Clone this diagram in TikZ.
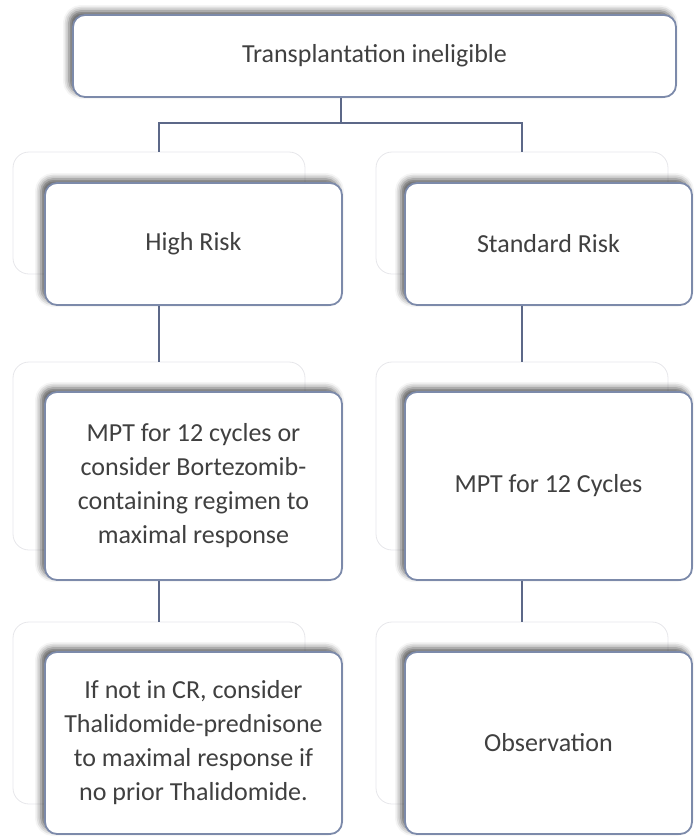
\documentclass[tikz,border=0pt]{standalone}
\usepackage{fontspec}
\setmainfont{Carlito}
\usepackage{tikz}
\usetikzlibrary{positioning,shadows.blur}
\definecolor{boxline}{RGB}{124,138,170}
\definecolor{ghostline}{RGB}{230,230,234}
\definecolor{linkcol}{RGB}{92,104,136}
\definecolor{txtgray}{RGB}{64,64,64}
\tikzset{%
	tbox/.style  = {draw=boxline, line width=1.8pt, rounded corners=12pt, fill=white, text=txtgray, align=center,
	                font=\fontsize{26}{34}\selectfont,
	                blur shadow={shadow xshift=-4pt, shadow yshift=4pt, shadow blur radius=6pt, shadow opacity=65}}, % box
	ghost/.style = {draw=ghostline, line width=0.8pt, rounded corners=16pt}, % faint frame behind a box
	link/.style  = {draw=linkcol, line width=1.6pt}, % connector
}

\begin{document}
\begin{tikzpicture}[x=1pt,y=-1pt]
	\useasboundingbox (0,0) rectangle (694,838);
	% faint frames
	\node[ghost, minimum width=292pt, minimum height=122pt] (hrg)  at (159,213) {};
	\node[ghost, minimum width=292pt, minimum height=122pt] (srg)  at (522,213) {};
	\node[ghost, minimum width=292pt, minimum height=188pt] (hrtg) at (159,456) {};
	\node[ghost, minimum width=292pt, minimum height=188pt] (srtg) at (522,456) {};
	\node[ghost, minimum width=292pt, minimum height=182pt] (hrfg) at (159,713) {};
	\node[ghost, minimum width=292pt, minimum height=182pt] (srfg) at (522,713) {};
	
	% boxes
	\node[tbox, minimum width=603pt, minimum height=82pt] (elig) at (374.5,56) {Transplantation ineligible};
	\node[tbox, minimum width=297pt, minimum height=122pt] (hr) at (193.5,244) {High Risk};
	\node[tbox, minimum width=287pt, minimum height=122pt] (sr) at (548.5,244) {Standard Risk};
	\node[tbox, minimum width=297pt, minimum height=188pt] (hrt) at (193.5,486) {MPT for 12 cycles or\\consider Bortezomib-\\containing regimen to\\maximal response};
	\node[tbox, minimum width=287pt, minimum height=188pt] (srt) at (548.5,486) {MPT for 12 Cycles};
	\node[tbox, minimum width=297pt, minimum height=182pt] (hrf) at (193.5,743) {If not in CR, consider\\Thalidomide-prednisone\\to maximal response if\\no prior Thalidomide.};
	\node[tbox, minimum width=287pt, minimum height=182pt] (srf) at (548.5,743) {Observation};
	
	% connectors
	\coordinate (split) at (341,123);
	\draw[link] (split |- elig.south) -- (split);
	\draw[link] (hrg.north) |- (split) -| (srg.north);
	\draw[link] (hr.south -| hrg.north) -- (hrtg.north);
	\draw[link] (sr.south -| srg.north) -- (srtg.north);
	\draw[link] (hrt.south -| hrtg.north) -- (hrfg.north);
	\draw[link] (srt.south -| srtg.north) -- (srfg.north);
\end{tikzpicture}
\end{document}
